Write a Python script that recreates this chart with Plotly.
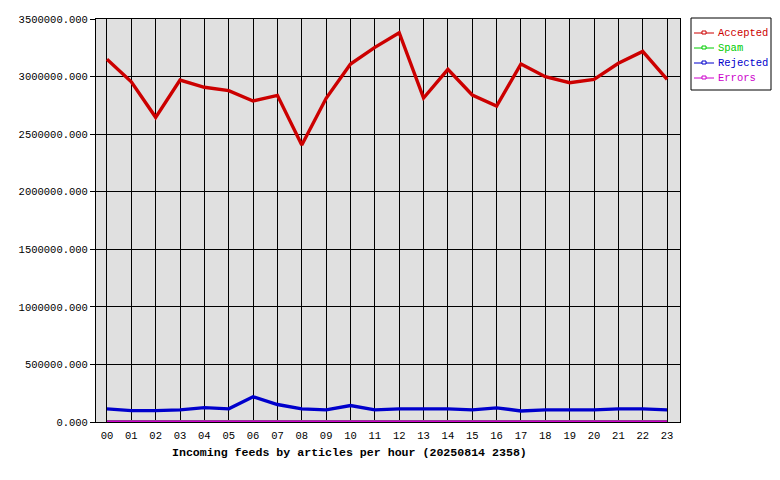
import plotly.graph_objects as go

hours = ["00","01","02","03","04","05","06","07","08","09","10","11",
         "12","13","14","15","16","17","18","19","20","21","22","23"]
accepted = [3150000, 2955000, 2646000, 2970000, 2907000, 2878000, 2788000, 2837000,
            2406000, 2811000, 3109000, 3254000, 3381000, 2814000, 3063000, 2840000,
            2744000, 3109000, 2999000, 2947000, 2976000, 3115000, 3219000, 2976000]
spam = [2000]*24
rejected = [114000, 99000, 99000, 105000, 125000, 114000, 219000, 152000,
            114000, 105000, 143000, 105000, 114000, 114000, 114000, 105000,
            123000, 96000, 105000, 105000, 105000, 114000, 114000, 105000]
errors = [0]*24

series = [("Accepted", accepted, "#cc0000"),
          ("Spam", spam, "#00cc00"),
          ("Rejected", rejected, "#0000cc"),
          ("Errors", errors, "#cc00cc")]

FONT = "Liberation Mono"
fig = go.Figure()
for name, vals, col in series:
    fig.add_trace(go.Scatter(x=hours, y=vals, mode="lines", name=name,
                             line=dict(color=col, width=3.4), showlegend=False))

# page has an 8px body margin; target page coords below
OFF = 8
W, H = 780 - OFF, 480 - OFF
L, T = 96 - OFF, 19 - OFF
R = W - (680 - OFF)
B = H - (422 - OFF)
pw, ph = W - L - R, H - T - B
def px(x): return (x - OFF - L) / pw
def py(y): return (H - B - (y - OFF)) / ph

shapes = []
annotations = []
# legend box
shapes.append(dict(type="rect", xref="paper", yref="paper",
                   x0=px(691), x1=px(771), y0=py(90), y1=py(18),
                   line=dict(color="black", width=1), fillcolor="white"))
rows = [33, 48, 63, 78]
for (name, vals, col), ry in zip(series, rows):
    shapes.append(dict(type="line", xref="paper", yref="paper",
                       x0=px(694), x1=px(714), y0=py(ry), y1=py(ry),
                       line=dict(color=col, width=1)))
    shapes.append(dict(type="rect", xref="paper", yref="paper",
                       x0=px(702), x1=px(706), y0=py(ry + 1), y1=py(ry - 2),
                       line=dict(color=col, width=1), fillcolor="white"))
    annotations.append(dict(text=name, xref="paper", yref="paper",
                            x=px(716), y=py(ry), xanchor="left", yanchor="middle",
                            showarrow=False, font=dict(family=FONT, size=10.5, color=col)))

annotations.append(dict(text="<b>Incoming feeds by articles per hour (20250814 2358)</b>",
                        xref="paper", yref="paper", x=px(349), y=py(452),
                        xanchor="center", yanchor="middle", showarrow=False,
                        font=dict(family=FONT, size=11.6, color="black")))

fig.update_layout(
    width=W, height=H,
    margin=dict(l=L, r=R, t=T, b=B, autoexpand=False),
    paper_bgcolor="white", plot_bgcolor="#e0e0e0",
    font=dict(family=FONT, size=10, color="black"),
    shapes=shapes, annotations=annotations,
    xaxis=dict(type="category", range=[-0.45, 23.53], showgrid=True, automargin=False,
               gridcolor="black", gridwidth=1, showline=True, linecolor="black",
               linewidth=1, mirror=True, ticks="", tickfont=dict(family=FONT, size=10.5),
               ticklabelstandoff=3, zeroline=False),
    yaxis=dict(range=[0, 3500000], dtick=500000, tickformat=".3f", automargin=False,
               showgrid=True, gridcolor="black", gridwidth=1, showline=True,
               linecolor="black", linewidth=1, mirror=True, ticks="outside",
               ticklen=5, tickcolor="black", zeroline=False,
               tickfont=dict(family=FONT, size=10.5)),
)
fig.write_html("out.html")
